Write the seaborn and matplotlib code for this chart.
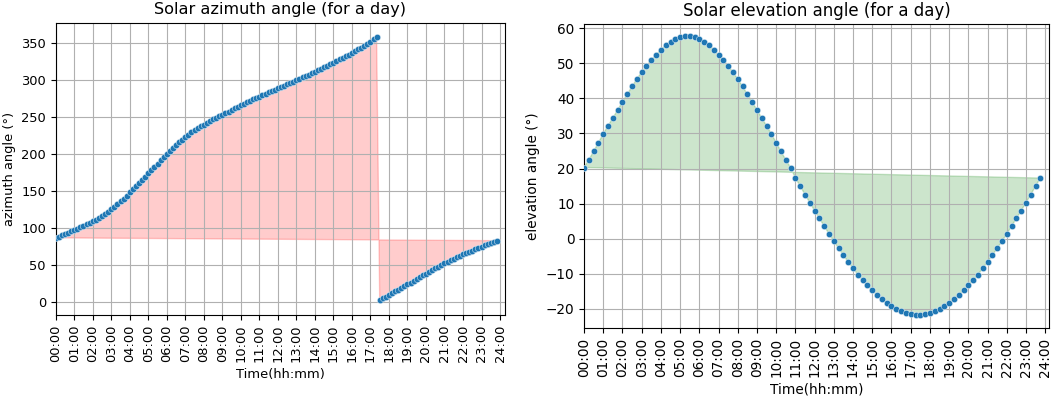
import numpy as np
import matplotlib
matplotlib.use("Agg")
import matplotlib.pyplot as plt
import seaborn as sns

# ---- data -------------------------------------------------------------
# azimuth samples every 10 minutes (00:00 .. 23:50)
az_minutes = np.arange(0, 1440, 10)
azimuth = [
    86.5, 88.2, 90.0, 91.7, 93.4, 95.2,
    97.0, 98.9, 100.8, 102.8, 104.8, 106.9,
    109.0, 111.2, 113.6, 116.1, 118.8, 121.7,
    125.0, 128.4, 132.0, 135.8, 139.7, 143.8,
    148.0, 152.3, 156.6, 160.9, 165.2, 169.6,
    174.0, 178.4, 182.7, 187.1, 191.4, 195.7,
    200.0, 204.2, 208.2, 212.1, 215.9, 219.5,
    223.0, 226.3, 229.4, 232.4, 235.1, 237.6,
    240.0, 242.3, 244.6, 246.9, 249.1, 251.3,
    253.5, 255.6, 257.7, 259.8, 261.9, 263.9,
    266.0, 268.0, 270.0, 272.0, 274.0, 276.0,
    278.0, 279.8, 281.7, 283.5, 285.3, 287.2,
    289.0, 290.8, 292.7, 294.5, 296.3, 298.2,
    300.0, 301.9, 303.8, 305.7, 307.6, 309.6,
    311.5, 313.6, 315.7, 317.8, 319.8, 321.9,
    324.0, 326.2, 328.3, 330.5, 332.7, 334.8,
    337.0, 339.4, 341.8, 344.3, 346.8, 349.4,
    352.0, 355.5, 359.0, 2.6, 4.8, 7.0,
    9.2, 11.6, 14.0, 16.4, 18.8, 21.1,
    23.5, 25.9, 28.3, 30.7, 33.1, 35.6,
    38.0, 40.4, 42.7, 45.1, 47.4, 49.7,
    52.0, 54.1, 56.1, 58.1, 60.1, 62.1,
    64.0, 65.8, 67.6, 69.3, 71.1, 72.8,
    74.5, 76.2, 77.9, 79.5, 81.1, 82.7,
]

# elevation samples every 15 minutes (00:00 .. 23:45)
el_minutes = np.arange(0, 1440, 15)
elevation = [
    20.3, 22.5, 24.9, 27.4, 29.9, 32.2, 34.4, 36.7,
    39.0, 41.2, 43.4, 45.5, 47.5, 49.3, 50.9, 52.4,
    53.9, 55.2, 56.1, 56.9, 57.4, 57.7, 57.7, 57.4,
    56.9, 56.1, 55.2, 53.9, 52.4, 50.9, 49.3, 47.5,
    45.5, 43.4, 41.2, 39.0, 36.7, 34.4, 32.2, 29.9,
    27.4, 24.9, 22.5, 20.3, 17.3, 15.0, 12.6, 10.3,
    8.0, 5.8, 3.6, 1.4, -0.7, -2.7, -4.7, -6.6,
    -8.4, -10.2, -11.8, -13.3, -14.7, -16.1, -17.2, -18.3,
    -19.2, -20.0, -20.6, -21.1, -21.4, -21.6, -21.6, -21.4,
    -21.1, -20.6, -20.0, -19.2, -18.3, -17.2, -16.1, -14.7,
    -13.3, -11.8, -10.2, -8.4, -6.6, -4.7, -2.7, -0.7,
    1.4, 3.6, 5.8, 8.0, 10.3, 12.6, 15.0, 17.3,
]

hour_ticks = list(range(25))
hour_labels = [
    "00:00", "01:00", "02:00", "03:00", "04:00", "05:00", "06:00", "07:00",
    "08:00", "09:00", "10:00", "11:00", "12:00", "13:00", "14:00", "15:00",
    "16:00", "17:00", "18:00", "19:00", "20:00", "21:00", "22:00", "23:00",
    "24:00",
]

# ---- figure -----------------------------------------------------------
plt.rcParams["font.family"] = ["DejaVu Sans"]
fig = plt.figure(figsize=(10.59, 3.99), dpi=100)
ax1 = fig.add_axes([0.0526, 0.2105, 0.4243, 0.7326])
ax2 = fig.add_axes([0.5515, 0.1772, 0.4391, 0.7619])


def draw(ax, minutes, values, fill_color, title, ylabel, yticks, ylim, xmax,
         tick_fs, title_fs):
    hours = np.asarray(minutes) / 60.0
    vals = np.asarray(values, dtype=float)
    ax.fill(hours, vals, color=fill_color, alpha=0.2)
    sns.scatterplot(x=hours, y=vals, ax=ax, color="#1f77b4", s=21,
                    edgecolor="white", linewidth=0.3, zorder=3)
    ax.set_xlim(0, xmax)
    ax.set_ylim(*ylim)
    ax.set_xticks(hour_ticks)
    ax.set_xticklabels(hour_labels, rotation=90, fontsize=tick_fs)
    ax.set_yticks(yticks)
    ax.tick_params(axis="y", labelsize=tick_fs)
    ax.grid(True, color="#b0b0b0", linewidth=0.8)
    ax.set_title(title, fontsize=title_fs)
    ax.set_xlabel("Time(hh:mm)", fontsize=tick_fs)
    ax.set_ylabel(ylabel, fontsize=tick_fs)


draw(ax1, az_minutes, azimuth, "red", "Solar azimuth angle (for a day)",
     "azimuth angle (°)", list(range(0, 351, 50)), (-18, 378), 24.27,
     9.4, 11.6)
draw(ax2, el_minutes, elevation, "green", "Solar elevation angle (for a day)",
     "elevation angle (°)", list(range(-20, 61, 10)), (-25.5, 61.1), 24.2,
     9.8, 12.0)

fig.savefig("out.png", dpi=100)
